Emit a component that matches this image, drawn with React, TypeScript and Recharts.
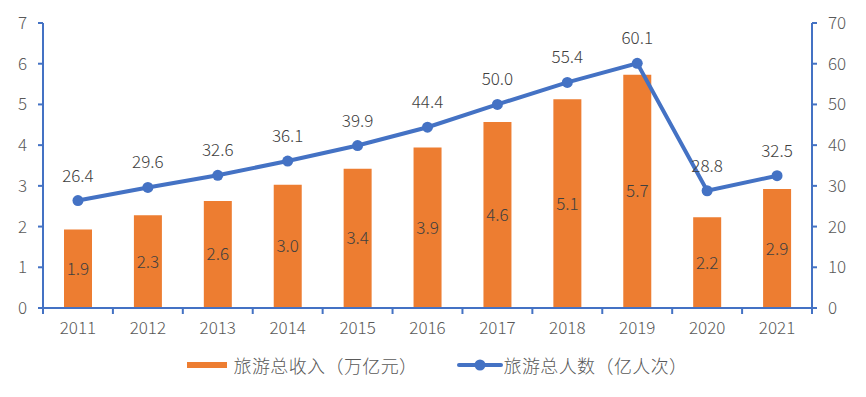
import { ComposedChart, Bar, Line, XAxis, YAxis, LabelList, Legend } from "recharts";

const years = ["2011", "2012", "2013", "2014", "2015", "2016", "2017", "2018", "2019", "2020", "2021"];
const revenue = [1.93, 2.28, 2.63, 3.03, 3.42, 3.94, 4.57, 5.13, 5.73, 2.23, 2.92];
const visitors = [26.4, 29.6, 32.6, 36.1, 39.9, 44.4, 50.0, 55.4, 60.1, 28.8, 32.5];
const leftTicks = [0, 1, 2, 3, 4, 5, 6, 7];
const rightTicks = [0, 10, 20, 30, 40, 50, 60, 70];

const data = years.map((y, i) => ({ year: y, revenue: revenue[i], visitors: visitors[i] }));

const FONT = "'Noto Sans CJK SC', 'Liberation Sans', sans-serif";
const BLUE = "#4472C4";
const ORANGE = "#ED7D31";
const BAND = (812 - 43) / years.length;

function XTick(props: any) {
  const { x, y, payload, index } = props;
  return (
    <g>
      {index === 0 && <line x1={x - BAND / 2} y1={y} x2={x - BAND / 2} y2={y + 6} stroke={BLUE} strokeWidth={2} />}
      <line x1={x + BAND / 2} y1={y} x2={x + BAND / 2} y2={y + 6} stroke={BLUE} strokeWidth={2} />
      <text x={x} y={y + 26} textAnchor="middle" fill="#595959" fontSize={17} fontWeight={300} fontFamily={FONT}>
        {payload.value}
      </text>
    </g>
  );
}

function LegendContent() {
  return (
    <div style={{ display: "flex", justifyContent: "center", alignItems: "center", fontFamily: FONT, fontWeight: 300, fontSize: 18, letterSpacing: 0.4, color: "#595959", paddingLeft: 8 }}>
      <svg width={40} height={8} style={{ marginRight: 7 }}>
        <rect x={0} y={1} width={40} height={6} fill={ORANGE} />
      </svg>
      <span>旅游总收入（万亿元）</span>
      <svg width={46} height={14} style={{ marginLeft: 39, marginRight: 1 }}>
        <line x1={2} y1={7} x2={44} y2={7} stroke={BLUE} strokeWidth={4} strokeLinecap="round" />
        <circle cx={23} cy={7} r={5.5} fill={BLUE} />
      </svg>
      <span>旅游总人数（亿人次）</span>
    </div>
  );
}

export default function App() {
  return (
    <div style={{ position: "absolute", left: 0, top: 0, background: "#fff" }}>
      <ComposedChart width={866} height={397} data={data} margin={{ top: 23, right: 0, bottom: 19, left: 0 }}>
        <XAxis
          dataKey="year"
          axisLine={{ stroke: BLUE, strokeWidth: 2 }}
          tickLine={false}
          tickSize={0}
          tickMargin={0}
          tick={<XTick />}
          height={44}
          interval={0}
        />
        <YAxis
          yAxisId="left"
          domain={[0, 7]}
          ticks={leftTicks}
          width={43}
          axisLine={{ stroke: BLUE, strokeWidth: 2 }}
          tickLine={{ stroke: BLUE, strokeWidth: 2 }}
          tickSize={5}
          tickMargin={11}
          tick={{ fill: "#595959", fontSize: 17, fontWeight: 300, fontFamily: FONT }}
        />
        <YAxis
          yAxisId="right"
          orientation="right"
          domain={[0, 70]}
          ticks={rightTicks}
          width={54}
          axisLine={{ stroke: BLUE, strokeWidth: 2 }}
          tickLine={{ stroke: BLUE, strokeWidth: 2 }}
          tickSize={5}
          tickMargin={11}
          tick={{ fill: "#595959", fontSize: 17, fontWeight: 300, fontFamily: FONT, textAnchor: "start" }}
        />
        <Legend verticalAlign="bottom" content={<LegendContent />} />
        <Bar yAxisId="left" dataKey="revenue" fill={ORANGE} barSize={28} isAnimationActive={false}>
          <LabelList
            dataKey="revenue"
            position="center"
            formatter={(v: any) => Number(v).toFixed(1)}
            fill="#404040"
            fontSize={17}
            fontWeight={300}
            fontFamily={FONT}
          />
        </Bar>
        <Line
          yAxisId="right"
          dataKey="visitors"
          stroke={BLUE}
          strokeWidth={4}
          dot={{ r: 5.5, fill: BLUE, stroke: BLUE, strokeWidth: 0 }}
          activeDot={false}
          isAnimationActive={false}
        >
          <LabelList
            dataKey="visitors"
            position="top"
            offset={19}
            formatter={(v: any) => Number(v).toFixed(1)}
            fill="#404040"
            fontSize={17}
            fontWeight={300}
            fontFamily={FONT}
          />
        </Line>
      </ComposedChart>
    </div>
  );
}
